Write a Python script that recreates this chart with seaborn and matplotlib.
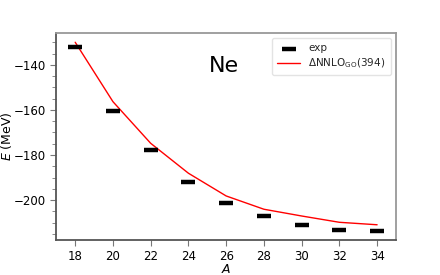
import matplotlib
matplotlib.use("Agg")
import matplotlib.pyplot as plt
import matplotlib.ticker as mticker
import pandas as pd
import seaborn as sns

# Ne isotopes: binding energies
masa = [18, 20, 22, 24, 26, 28, 30, 32, 34]
e_exp = [-132.1, -160.6, -177.8, -191.8, -201.5, -206.9, -211.1, -213.5, -213.8]
e_nnlo = [-129.9, -156.3, -174.8, -188.1, -198.2, -204.1, -207.1, -209.9, -211.0]

df = pd.DataFrame({"A": masa, "exp": e_exp, "nnlo": e_nnlo})

sns.set_style("ticks")
plt.rcParams["font.family"] = ["DejaVu Sans"]

fig, ax = plt.subplots(figsize=(4.4, 2.75), dpi=100)

sns.scatterplot(data=df, x="A", y="exp", ax=ax, color="black", edgecolor="black",
                marker="_", s=115, linewidth=3.2, label="exp", zorder=3)
sns.lineplot(data=df, x="A", y="nnlo", ax=ax, color="red", linewidth=1,
             label=r"$\Delta$NNLO$_{\rm GO}$(394)")

ax.set_xlim(17, 35)
ax.set_ylim(-217.8, -125.8)
ax.xaxis.set_major_locator(mticker.MultipleLocator(2))
ax.yaxis.set_major_locator(mticker.MultipleLocator(20))
ax.yaxis.set_minor_locator(mticker.MultipleLocator(5))
ax.tick_params(axis="both", which="major", labelsize=8.5, length=4, color="#777",
               labelcolor="black")
ax.tick_params(axis="y", which="minor", length=3, color="#777")

for lado in ["left", "bottom"]:
    ax.spines[lado].set_color("#555")
for lado in ["top", "right"]:
    ax.spines[lado].set_color("#999")
    ax.spines[lado].set_visible(True)
for s in ax.spines.values():
    s.set_linewidth(1.3)

ax.set_xlabel("$A$", fontsize=9, labelpad=0, color="black")
ax.set_ylabel("$E$ (MeV)", fontsize=9, labelpad=0, color="black")

ax.text(0.449, 0.81, "Ne", transform=ax.transAxes, fontsize=16, color="black")

leg = ax.legend(loc="upper right", fontsize=7.5, frameon=True, handlelength=2.2,
                borderpad=0.5, labelspacing=0.3)
leg.get_frame().set_edgecolor("#ddd")

fig.subplots_adjust(left=0.128, right=0.9, top=0.88, bottom=0.127)
fig.savefig("out.png", dpi=100)
